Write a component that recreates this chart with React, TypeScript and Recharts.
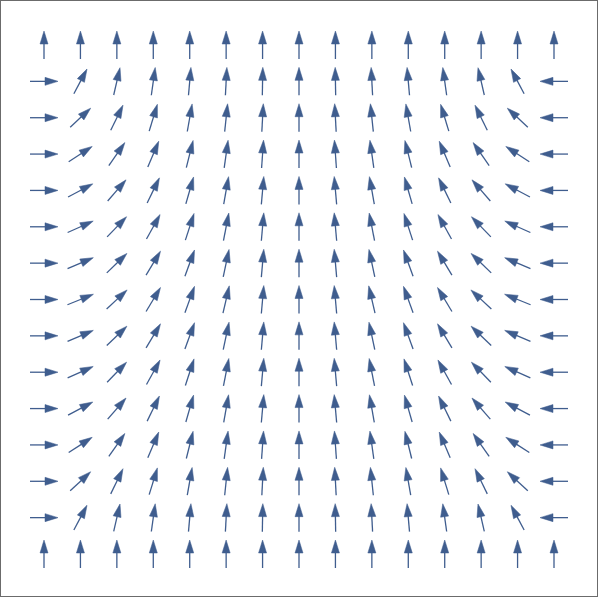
import React from 'react'
import { ScatterChart, Scatter, XAxis, YAxis } from 'recharts'

// grid positions (column / row index of each arrow)
const columns = [0, 1, 2, 3, 4, 5, 6, 7, 8, 9, 10, 11, 12, 13, 14]
const rows = [0, 1, 2, 3, 4, 5, 6, 7, 8, 9, 10, 11, 12, 13, 14]

// arrow direction in degrees, clockwise from straight up
const row00 = [0, 0, 0, 0, 0, 0, 0, 0, 0, 0, 0, 0, 0, 0, 0]
const row01 = [90, 28, 13, 8, 5, 3, 1, 0, -1, -3, -5, -8, -13, -28, -90]
const row02 = [90, 47, 26, 17, 10, 6, 3, 0, -3, -6, -10, -17, -26, -47, -90]
const row03 = [90, 57, 35, 23, 14, 8, 4, 0, -4, -8, -14, -23, -35, -57, -90]
const row04 = [90, 62, 41, 26, 16, 10, 5, 0, -5, -10, -16, -26, -41, -62, -90]
const row05 = [90, 66, 44, 29, 18, 11, 5, 0, -5, -11, -18, -29, -44, -66, -90]
const row06 = [90, 67, 46, 31, 20, 12, 5, 0, -5, -12, -20, -31, -46, -67, -90]
const row07 = [90, 68, 47, 31, 20, 13, 5, 0, -5, -13, -20, -31, -47, -68, -90]
const row08 = [90, 67, 46, 31, 20, 12, 5, 0, -5, -12, -20, -31, -46, -67, -90]
const row09 = [90, 66, 44, 29, 18, 11, 5, 0, -5, -11, -18, -29, -44, -66, -90]
const row10 = [90, 62, 41, 26, 16, 10, 5, 0, -5, -10, -16, -26, -41, -62, -90]
const row11 = [90, 57, 35, 23, 14, 8, 4, 0, -4, -8, -14, -23, -35, -57, -90]
const row12 = [90, 47, 26, 17, 10, 6, 3, 0, -3, -6, -10, -17, -26, -47, -90]
const row13 = [90, 28, 13, 8, 5, 3, 1, 0, -1, -3, -5, -8, -13, -28, -90]
const row14 = [0, 0, 0, 0, 0, 0, 0, 0, 0, 0, 0, 0, 0, 0, 0]

const angleRows = [row00, row01, row02, row03, row04, row05, row06, row07, row08, row09, row10, row11, row12, row13, row14]

const data = rows.flatMap(r => columns.map(c => ({ x: c, y: r, angle: angleRows[r][c] })))

const COLOR = '#3f5d8e'

function Arrow(props: any) {
  const { cx, cy, payload } = props
  if (cx == null || cy == null) return null
  const len = 28
  const head = 13
  const half = 4
  const top = -len / 2
  return (
    <g transform={`translate(${cx},${cy}) rotate(${payload.angle})`}>
      <line x1={0} y1={len / 2} x2={0} y2={top + head - 1} stroke={COLOR} strokeWidth={1.3} />
      <polygon points={`0,${top} ${half},${top + head} ${-half},${top + head}`} fill={COLOR} stroke={COLOR} strokeWidth={0.5} strokeLinejoin="miter" />
    </g>
  )
}

export default function App() {
  return (
    <div style={{ position: 'absolute', left: 0, top: 0, width: 599, height: 599, background: '#fff' }}>
      <div style={{ position: 'absolute', left: 0, top: 0, width: 596, height: 595, border: '1px solid #6b6b6b' }} />
      <div style={{ position: 'absolute', left: 0, top: 0 }}>
        <ScatterChart width={599} height={599} margin={{ top: 45, right: 45, bottom: 45, left: 44 }}>
          <XAxis type="number" dataKey="x" domain={[0, 14]} hide />
          <YAxis type="number" dataKey="y" domain={[0, 14]} reversed hide />
          <Scatter data={data} shape={(p: any) => <Arrow {...p} />} isAnimationActive={false} />
        </ScatterChart>
      </div>
    </div>
  )
}
